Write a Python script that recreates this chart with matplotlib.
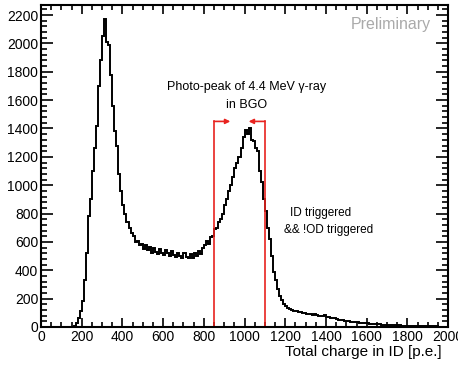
import numpy as np
import matplotlib
matplotlib.use("Agg")
import matplotlib.pyplot as plt
from matplotlib.ticker import MultipleLocator

# histogram: total charge in ID, 10 p.e. bins from 0 to 2000
binWidth = 10
leadingZeros = [0] * 15  # 0 .. 140
counts = leadingZeros + [
    2, 10, 30, 60, 110, 180, 330, 520, 780, 900,            # 150-240
    1100, 1260, 1420, 1700, 1880, 2050, 2170, 2010, 1990, 1780,  # 250-340
    1560, 1380, 1280, 1080, 960, 860, 800, 740, 700, 660,   # 350-440
    640, 600, 610, 575, 585, 550, 575, 540, 565, 525,       # 450-540
    560, 530, 515, 550, 525, 505, 545, 520, 500, 535,       # 550-640
    510, 495, 525, 500, 490, 520, 495, 485, 515, 490,       # 650-740
    525, 500, 535, 515, 555, 580, 610, 585, 635, 645,       # 750-840
    690, 700, 740, 760, 800, 860, 900, 960, 1000, 1060,     # 850-940
    1120, 1160, 1200, 1260, 1340, 1390, 1360, 1400, 1320, 1310,  # 950-1040
    1260, 1240, 1100, 1020, 900, 820, 700, 620, 500, 390,   # 1050-1140
    330, 270, 220, 190, 165, 150, 135, 125, 120, 115,       # 1150-1240
    110, 108, 104, 100, 102, 95, 93, 90, 88, 92,            # 1250-1340
    82, 80, 78, 75, 82, 70, 68, 65, 62, 60,                 # 1350-1440
    56, 52, 50, 47, 45, 42, 40, 38, 36, 34,                 # 1450-1540
    32, 31, 30, 28, 26, 25, 24, 22, 21, 20,                 # 1550-1640
    19, 18, 17, 16, 15, 14, 14, 13, 12, 12,                 # 1650-1740
    11, 11, 10, 10, 9, 9, 8, 8, 8, 7,                       # 1750-1840
    7, 6, 6, 6, 5, 5, 5, 4, 4, 4,                           # 1850-1940
    3, 3, 3, 3, 2,                                          # 1950-1990
]
edges = np.arange(len(counts) + 1) * binWidth

# selection window for the photo-peak
cutLow = 850
cutHigh = 1100
cutTop = 1450
arrowLen = 80

redColor = "#e8231f"
fontFamily = ["Liberation Sans", "DejaVu Sans"]
plt.rcParams["font.family"] = fontFamily

fig = plt.figure(figsize=(4.58, 3.67), dpi=100)
ax = fig.add_axes([0.0895, 0.109, 0.889, 0.877])

ax.stairs(counts, edges, color="black", linewidth=1.4)

ax.plot([cutLow, cutLow], [0, cutTop], color=redColor, linewidth=1.2)
ax.plot([cutHigh, cutHigh], [0, cutTop], color=redColor, linewidth=1.2)
arrowStyle = dict(arrowstyle="-|>", color=redColor, linewidth=1.2, mutation_scale=7,
                  shrinkA=0, shrinkB=0)
ax.annotate("", xy=(cutLow + arrowLen, cutTop), xytext=(cutLow, cutTop), arrowprops=arrowStyle)
ax.annotate("", xy=(cutHigh - arrowLen, cutTop), xytext=(cutHigh, cutTop), arrowprops=arrowStyle)

ax.set_xlim(0, 2000)
ax.set_ylim(0, 2270)

ax.xaxis.set_major_locator(MultipleLocator(200))
ax.xaxis.set_minor_locator(MultipleLocator(50))
ax.yaxis.set_major_locator(MultipleLocator(200))
ax.yaxis.set_minor_locator(MultipleLocator(40))

ax.tick_params(axis="both", which="both", direction="in", top=True, right=True,
               labelsize=10, width=1.2, pad=2)
ax.tick_params(axis="x", which="major", length=6.5)
ax.tick_params(axis="x", which="minor", length=3.3)
ax.tick_params(axis="y", which="major", length=8.5)
ax.tick_params(axis="y", which="minor", length=4.3)
for spine in ax.spines.values():
    spine.set_linewidth(1.5)

ax.set_xlabel("Total charge in ID [p.e.]", fontsize=11, labelpad=1)
ax.xaxis.set_label_coords(0.985, -0.055, transform=ax.transAxes)
ax.xaxis.label.set_horizontalalignment("right")
ax.xaxis.label.set_verticalalignment("top")

ax.text(0.958, 0.94, "Preliminary", transform=ax.transAxes, ha="right", va="center",
        fontsize=11.5, color="#aaaaaa")
ax.text(0.506, 0.745, "Photo-peak of 4.4 MeV γ-ray", transform=ax.transAxes,
        ha="center", va="center", fontsize=9)
ax.text(0.506, 0.69, "in BGO", transform=ax.transAxes, ha="center", va="center", fontsize=9)
ax.text(0.611, 0.355, "ID triggered", transform=ax.transAxes, ha="left", va="center", fontsize=8.5)
ax.text(0.597, 0.302, "&& !OD triggered", transform=ax.transAxes, ha="left", va="center", fontsize=8.5)

fig.savefig("out.png", dpi=100)
